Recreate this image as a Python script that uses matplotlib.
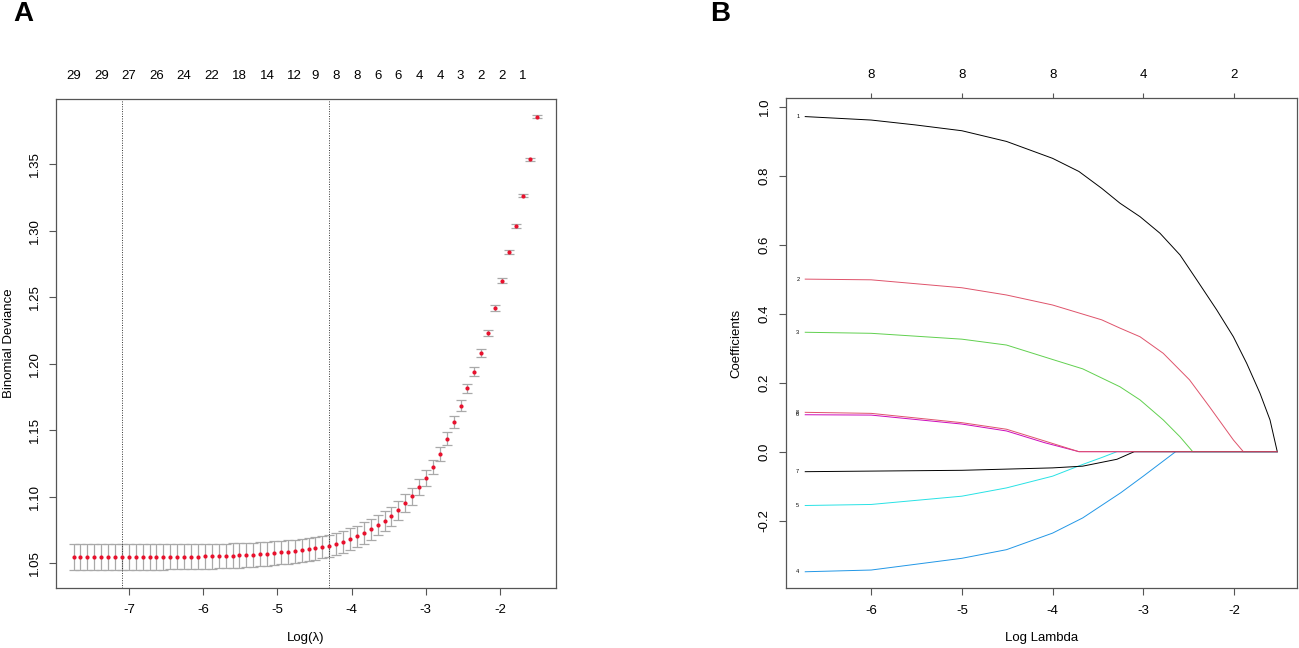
import matplotlib
matplotlib.use("Agg")
import matplotlib.pyplot as plt

plt.rcParams["font.family"] = ["Liberation Sans", "DejaVu Sans"]
plt.rcParams["axes.unicode_minus"] = False

# ---- panel A: cross-validated binomial deviance ----
log_lambda_cv = [
    -7.750, -7.657, -7.564, -7.470, -7.377, -7.284, -7.191, -7.098, -7.004, -6.911,
    -6.818, -6.725, -6.632, -6.538, -6.445, -6.352, -6.259, -6.166, -6.072, -5.979,
    -5.886, -5.793, -5.700, -5.606, -5.513, -5.420, -5.327, -5.234, -5.140, -5.047,
    -4.954, -4.861, -4.768, -4.674, -4.581, -4.488, -4.395, -4.302, -4.208, -4.115,
    -4.022, -3.929, -3.836, -3.742, -3.649, -3.556, -3.463, -3.370, -3.276, -3.183,
    -3.090, -2.997, -2.904, -2.810, -2.717, -2.624, -2.531, -2.438, -2.344, -2.251,
    -2.158, -2.065, -1.972, -1.878, -1.785, -1.692, -1.599, -1.506,
]
deviance = [
    1.0545, 1.0545, 1.0545, 1.0545, 1.0545, 1.0545, 1.0545, 1.0545, 1.0545, 1.0545,
    1.0545, 1.0545, 1.0545, 1.0545, 1.0548, 1.0548, 1.0548, 1.0548, 1.0548, 1.0550,
    1.0550, 1.0553, 1.0553, 1.0555, 1.0558, 1.0560, 1.0563, 1.0566, 1.0570, 1.0573,
    1.0580, 1.0583, 1.0588, 1.0596, 1.0603, 1.0611, 1.0620, 1.0628, 1.0643, 1.0660,
    1.0678, 1.0701, 1.0726, 1.0753, 1.0783, 1.0814, 1.0851, 1.0897, 1.0949, 1.1004,
    1.1069, 1.1140, 1.1222, 1.1322, 1.1435, 1.1561, 1.1684, 1.1814, 1.1940, 1.2080,
    1.2230, 1.2420, 1.2625, 1.2838, 1.3034, 1.3264, 1.3538, 1.3858,
]
deviance_se = [
    0.0098, 0.0098, 0.0098, 0.0098, 0.0098, 0.0098, 0.0098, 0.0098, 0.0095, 0.0095,
    0.0095, 0.0095, 0.0095, 0.0095, 0.0095, 0.0095, 0.0095, 0.0095, 0.0095, 0.0094,
    0.0094, 0.0093, 0.0093, 0.0092, 0.0092, 0.0091, 0.0091, 0.0090, 0.0090, 0.0089,
    0.0089, 0.0088, 0.0088, 0.0087, 0.0087, 0.0086, 0.0086, 0.0085, 0.0084, 0.0083,
    0.0082, 0.0081, 0.0080, 0.0078, 0.0076, 0.0074, 0.0072, 0.0070, 0.0067, 0.0064,
    0.0061, 0.0058, 0.0055, 0.0051, 0.0047, 0.0043, 0.0039, 0.0035, 0.0031, 0.0028,
    0.0025, 0.0022, 0.0019, 0.0016, 0.0014, 0.0012, 0.0010, 0.0009,
]
nonzero_idx = [0, 4, 8, 12, 16, 20, 24, 28, 32, 35, 38, 41, 44, 47, 50, 53, 56, 59, 62, 65]
nonzero_lab = ["29", "29", "27", "26", "24", "22", "18", "14", "12", "9",
               "8", "8", "6", "6", "4", "4", "3", "2", "2", "1"]
lambda_min = -7.098
lambda_1se = -4.302

# ---- panel B: coefficient paths ----
path_x = {
    "1": [-6.727, -6.0, -5.517, -5.0, -4.508, -4.0, -3.71, -3.458, -3.257, -3.036,
          -2.816, -2.595, -2.411, -2.191, -2.007, -1.860, -1.713, -1.603, -1.523],
    "2": [-6.727, -6.0, -5.0, -4.508, -4.0, -3.458, -3.257, -3.036, -2.78, -2.49,
          -2.27, -2.007, -1.897, -1.523],
    "3": [-6.727, -6.0, -5.0, -4.508, -3.962, -3.668, -3.257, -3.036, -2.78, -2.595,
          -2.455, -1.523],
    "4": [-6.727, -6.0, -5.0, -4.508, -4.0, -3.668, -3.248, -3.0, -2.643, -1.523],
    "5": [-6.727, -6.0, -5.0, -4.508, -4.0, -3.668, -3.458, -3.29, -1.523],
    "6": [-6.727, -6.0, -5.0, -4.508, -4.088, -3.71, -1.523],
    "7": [-6.727, -5.0, -4.0, -3.668, -3.29, -3.1, -1.523],
    "8": [-6.727, -6.0, -5.0, -4.508, -4.088, -3.71, -1.523],
}
path_y = {
    "1": [0.971, 0.961, 0.947, 0.930, 0.899, 0.850, 0.812, 0.763, 0.720, 0.681,
          0.633, 0.570, 0.498, 0.411, 0.333, 0.256, 0.169, 0.092, 0.0],
    "2": [0.500, 0.498, 0.475, 0.454, 0.425, 0.382, 0.358, 0.333, 0.285, 0.208,
          0.130, 0.034, 0.0, 0.0],
    "3": [0.346, 0.343, 0.326, 0.309, 0.264, 0.240, 0.188, 0.150, 0.092, 0.043,
          0.0, 0.0],
    "4": [-0.348, -0.343, -0.309, -0.284, -0.236, -0.192, -0.119, -0.071, 0.0, 0.0],
    "5": [-0.156, -0.153, -0.129, -0.105, -0.071, -0.037, -0.017, 0.0, 0.0],
    "6": [0.107, 0.106, 0.080, 0.060, 0.026, 0.0, 0.0],
    "7": [-0.058, -0.054, -0.047, -0.042, -0.022, 0.0, 0.0],
    "8": [0.114, 0.111, 0.084, 0.065, 0.031, 0.0, 0.0],
}
path_colors = {
    "1": "#000000", "2": "#DF536B", "3": "#61D04F", "4": "#2297E6",
    "5": "#28E2E5", "6": "#CD0BBC", "7": "#000000", "8": "#DF536B",
}
top_ticks_b = [-6, -5, -4, -3, -2]
top_labels_b = ["8", "8", "8", "4", "2"]

AXIS_GREY = "#555555"
FS = 9.5


def style_axes(ax):
    for s in ax.spines.values():
        s.set_color(AXIS_GREY)
        s.set_linewidth(0.9)
    ax.tick_params(direction="out", length=4.8, width=0.8, color=AXIS_GREY,
                   labelsize=FS, labelcolor="black")
    ax.tick_params(axis="x", pad=7.0)
    ax.tick_params(axis="y", pad=6.0, labelrotation=90)
    for lab in ax.get_yticklabels():
        lab.set_va("center")


fig = plt.figure(figsize=(12.99, 6.48), dpi=100)

# panel A
ax = fig.add_axes([0.0429, 0.0926, 0.3851, 0.7546])
ax.errorbar(log_lambda_cv, deviance, yerr=deviance_se, fmt="none",
            ecolor="#A9A9A9", elinewidth=0.9, capsize=3.3, capthick=0.9, zorder=2)
ax.plot(log_lambda_cv, deviance, "o", color="#E8112D", markersize=3.0,
        markeredgewidth=0, zorder=3)
ax.axvline(lambda_min, color="#333333", linestyle=(0, (1, 1.5)), linewidth=0.7)
ax.axvline(lambda_1se, color="#333333", linestyle=(0, (1, 1.5)), linewidth=0.7)
ax.set_xlim(-7.99, -1.245)
ax.set_ylim(1.0312, 1.3991)
ax.set_xticks([-7, -6, -5, -4, -3, -2])
ax.set_yticks([1.05, 1.10, 1.15, 1.20, 1.25, 1.30, 1.35])
ax.set_yticklabels(["1.05", "1.10", "1.15", "1.20", "1.25", "1.30", "1.35"])
style_axes(ax)
axt = ax.twiny()
axt.set_xlim(ax.get_xlim())
axt.set_xticks([log_lambda_cv[i] for i in nonzero_idx])
axt.set_xticklabels(nonzero_lab)
axt.tick_params(axis="x", length=0, pad=12.0, labelsize=FS)
for s in axt.spines.values():
    s.set_visible(False)

fig.text(0.0069, 0.470, "Binomial Deviance", rotation=90, ha="center", va="center", fontsize=FS)
fig.text(0.2355, 0.016, "Log(\u03bb)", ha="center", va="center", fontsize=FS)

# panel B
bx = fig.add_axes([0.6048, 0.0921, 0.3939, 0.7562])
for key in path_x:
    bx.plot(path_x[key], path_y[key], color=path_colors[key], linewidth=0.7)
    bx.text(-6.81, path_y[key][0], key, fontsize=4, ha="center", va="center")
bx.set_xlim(-6.943, -1.302)
bx.set_ylim(-0.396, 1.024)
bx.set_xticks([-6, -5, -4, -3, -2])
bx.set_yticks([-0.2, 0.0, 0.2, 0.4, 0.6, 0.8, 1.0])
bx.set_yticklabels(["-0.2", "0.0", "0.2", "0.4", "0.6", "0.8", "1.0"])
style_axes(bx)
bxt = bx.twiny()
bxt.set_xlim(bx.get_xlim())
bxt.set_xticks(top_ticks_b)
bxt.set_xticklabels(top_labels_b)
bxt.tick_params(axis="x", direction="out", length=3.6, width=0.8, color=AXIS_GREY,
                pad=8.5, labelsize=FS)
for s in bxt.spines.values():
    s.set_visible(False)

fig.text(0.5666, 0.470, "Coefficients", rotation=90, ha="center", va="center", fontsize=FS)
fig.text(0.8018, 0.016, "Log Lambda", ha="center", va="center", fontsize=FS)

fig.text(0.0177, 0.979, "A", fontsize=20, fontweight="bold", ha="center", va="center")
fig.text(0.5543, 0.979, "B", fontsize=20, fontweight="bold", ha="center", va="center")

fig.savefig("out.png", dpi=100)
